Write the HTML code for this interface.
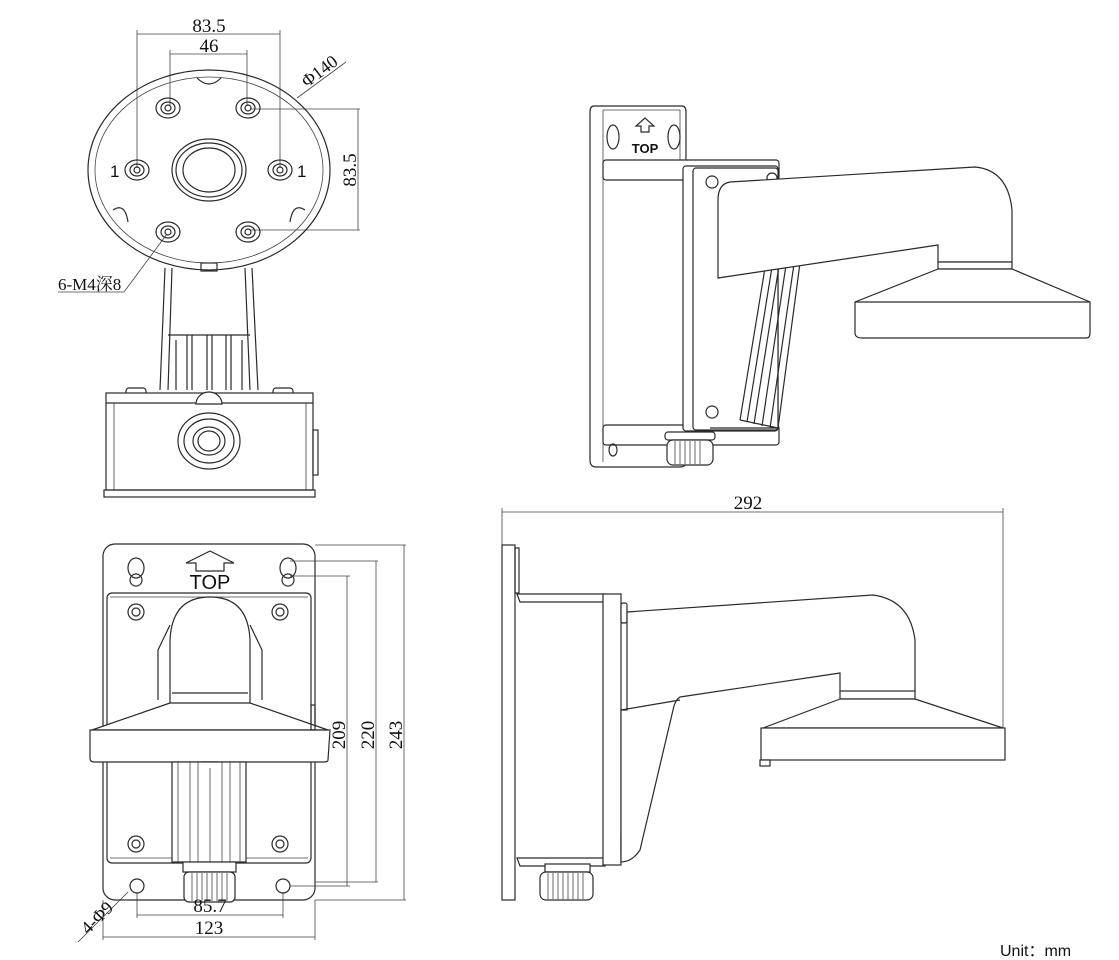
<!DOCTYPE html>
<html><head><meta charset="utf-8"><style>
html,body{margin:0;padding:0;background:#fff;width:1119px;height:960px;overflow:hidden}
svg{display:block}
.l{fill:none;stroke:#2a2a2a;stroke-width:1.2}
.t{stroke:#444;stroke-width:0.8;fill:none}
.w{fill:#fff;stroke:#2a2a2a;stroke-width:1.2}
text{font-family:"Liberation Serif","Noto Serif CJK SC",serif;fill:#111}
text.s{font-family:"Liberation Sans","Noto Sans CJK SC",sans-serif}
</style></head><body>
<svg width="1119" height="960" viewBox="0 0 1119 960" xmlns="http://www.w3.org/2000/svg">
<!-- ===== Top-left view ===== -->
<g>
<line class="t" x1="137" y1="34" x2="280" y2="34"/><line class="t" x1="137" y1="30" x2="137" y2="168"/><line class="t" x1="280" y1="30" x2="280" y2="168"/>
<text x="209" y="32" font-size="19" text-anchor="middle">83.5</text>
<line class="t" x1="170" y1="54" x2="247" y2="54"/><line class="t" x1="170" y1="50" x2="170" y2="106"/><line class="t" x1="247" y1="50" x2="247" y2="106"/>
<text x="209" y="52" font-size="19" text-anchor="middle">46</text>
<line class="t" x1="297" y1="98" x2="346" y2="62"/>
<text transform="translate(307,88) rotate(-37)" font-size="18">Φ140</text>
<line class="t" x1="250" y1="109" x2="360" y2="109"/><line class="t" x1="250" y1="230" x2="360" y2="230"/><line class="t" x1="358" y1="109" x2="358" y2="230"/>
<text transform="translate(356,170) rotate(-90)" font-size="19" text-anchor="middle">83.5</text>
<ellipse class="l" cx="209" cy="170" rx="121" ry="100"/>
<ellipse class="t" cx="209" cy="170" rx="114" ry="93"/>
<path class="w" d="M197 78 q12 12 24 0" />
<path class="w" d="M113 210 q12 -8 15 12" /><path class="w" d="M305 210 q-12 -8 -15 12" />
<ellipse class="l" cx="209" cy="170" rx="37" ry="31"/><ellipse class="l" cx="209" cy="170" rx="33" ry="27"/><ellipse class="l" cx="209" cy="170" rx="26" ry="22"/>
<g class="l">
<ellipse cx="168" cy="108" rx="12" ry="10"/><ellipse cx="168" cy="108" rx="7" ry="6"/><ellipse cx="168" cy="108" rx="3" ry="3"/>
<ellipse cx="248" cy="108" rx="12" ry="10"/><ellipse cx="248" cy="108" rx="7" ry="6"/><ellipse cx="248" cy="108" rx="3" ry="3"/>
<ellipse cx="137" cy="170" rx="12" ry="10"/><ellipse cx="137" cy="170" rx="7" ry="6"/><ellipse cx="137" cy="170" rx="3" ry="3"/>
<ellipse cx="280" cy="170" rx="12" ry="10"/><ellipse cx="280" cy="170" rx="7" ry="6"/><ellipse cx="280" cy="170" rx="3" ry="3"/>
<ellipse cx="168" cy="232" rx="12" ry="10"/><ellipse cx="168" cy="232" rx="7" ry="6"/><ellipse cx="168" cy="232" rx="3" ry="3"/>
<ellipse cx="248" cy="232" rx="12" ry="10"/><ellipse cx="248" cy="232" rx="7" ry="6"/><ellipse cx="248" cy="232" rx="3" ry="3"/>
</g>
<text class="s" x="110" y="177" font-size="17">1</text>
<text class="s" x="297" y="177" font-size="17">1</text>
<text x="58" y="290" font-size="17">6-M4深8</text>
<polyline class="t" points="58,292 124,292 167,234"/>
<!-- stem -->
<path class="l" d="M165 268 L160 390 M172 268 L168 390 M252 268 L258 390 M245 268 L250 390"/>
<rect class="l" x="201" y="263" width="16" height="8"/>
<path class="l" d="M168 335 L250 335 M187 335 L187 390 M192 335 L192 390 M207 335 L207 390 M212 335 L212 390 M226 335 L226 390 M231 335 L231 390 M176 340 L176 390 M242 340 L242 390"/>
<rect class="w" x="126" y="388" width="20" height="8" rx="3"/><rect class="w" x="273" y="388" width="20" height="8" rx="3"/>
<rect class="w" x="106" y="393" width="207" height="97"/>
<line class="l" x1="106" y1="403" x2="313" y2="403"/><line class="t" x1="114" y1="403" x2="114" y2="490"/><line class="t" x1="306" y1="403" x2="306" y2="490"/>
<path class="w" d="M196 404 a13 12 0 0 1 26 0 z"/>
<ellipse class="l" cx="209" cy="441" rx="31" ry="28"/><ellipse class="l" cx="209" cy="441" rx="25" ry="22"/><ellipse class="l" cx="209" cy="441" rx="16" ry="14"/><ellipse class="l" cx="209" cy="441" rx="11" ry="10"/>
<rect class="l" x="313" y="430" width="5" height="45"/>
<rect class="l" x="104" y="490" width="211" height="7"/>
</g>
<!-- ===== Top-right view ===== -->
<g>
<path class="w" d="M594 106 L682 106 Q686 106 686 112 L686 462 Q686 467 680 467 L596 467 Q590 467 590 460 L590 112 Q590 106 594 106 Z"/>
<path class="t" d="M603 110 L680 110 L680 160 M603 110 L603 462"/>
<ellipse class="l" cx="613" cy="137" rx="6" ry="12"/><ellipse class="l" cx="674" cy="137" rx="6" ry="12"/>
<path class="l" d="M645 118 l-9 8 h5 v6 h8 v-6 h5 z"/>
<text class="s" x="645" y="153" font-size="13" font-weight="bold" text-anchor="middle">TOP</text>
<rect class="w" x="603" y="160" width="176" height="20" rx="3"/>
<rect class="w" x="603" y="425" width="176" height="20" rx="3"/>
<ellipse class="l" cx="613" cy="450" rx="4" ry="6"/>
<rect class="w" x="683" y="166" width="95" height="265" rx="3"/>
<rect class="w" x="693" y="168" width="85" height="262" rx="3"/>
<circle class="l" cx="712" cy="182" r="6"/><circle class="l" cx="772" cy="178" r="5"/><circle class="l" cx="712" cy="412" r="6"/>
<!-- fins -->
<path class="l" d="M765 268 L740 420 M772 267 L747 422 M779 266 L754 424 M786 265 L762 426 M794 264 L770 428 M800 263 L778 428"/>
<path class="l" d="M740 420 L778 428 M710 428 L778 428"/>
<!-- arm -->
<path class="w" d="M730 182 L975 167 Q1008 170 1012 210 L1012 262 L938 262 L938 245 L718 278 L718 200 Q718 184 730 182 Z"/>
<rect class="w" x="938" y="262" width="74" height="7"/>
<path class="w" d="M938 269 L855 302 L855 334 Q856 338 862 338 L1086 338 Q1090 338 1090 333 L1090 302 L1012 269 Z"/>
<line class="l" x1="855" y1="302" x2="1090" y2="302"/>
<rect class="w" x="665" y="432" width="50" height="8" rx="3"/>
<rect class="w" x="667" y="440" width="46" height="25" rx="6"/>
<path class="t" d="M675 441v23 M680 441v23 M685 441v23 M690 441v23 M695 441v23 M700 441v23"/>
</g>
<!-- ===== Bottom-left view ===== -->
<g>
<rect class="w" x="103" y="544" width="212" height="356" rx="12"/>
<rect class="w" x="107" y="593" width="204" height="270" rx="5"/>
<path class="t" d="M110 597 L308 597 M110 858 L308 858"/>
<ellipse class="l" cx="136" cy="568" rx="8" ry="10"/><ellipse class="l" cx="136" cy="580" rx="6" ry="6"/>
<ellipse class="l" cx="288" cy="568" rx="8" ry="10"/><ellipse class="l" cx="288" cy="580" rx="6" ry="6"/>
<path class="l" d="M210 551 l-24 12 h10 v8 h28 v-8 h10 z"/>
<text class="s" x="210" y="589" font-size="20" text-anchor="middle">TOP</text>
<g class="l"><circle cx="136" cy="612" r="8"/><circle cx="136" cy="612" r="4"/><circle cx="280" cy="612" r="8"/><circle cx="280" cy="612" r="4"/><circle cx="136" cy="844" r="8"/><circle cx="136" cy="844" r="4"/><circle cx="280" cy="844" r="8"/><circle cx="280" cy="844" r="4"/></g>
<path class="w" d="M170 705 L170 640 Q172 597 210 597 Q248 597 250 640 L250 705 Z"/>
<path class="l" d="M170 625 L158 650 L158 700 M250 625 L262 650 L262 700 M172 693 L248 693"/>
<path class="w" d="M170 703 L92 730 L328 730 L250 703 Z"/>
<path class="w" d="M90 730 L330 730 L328 760 Q328 762 324 762 L94 762 Q90 762 90 758 Z"/>
<rect class="w" x="200" y="762" width="20" height="6" rx="2"/>
<rect class="w" x="172" y="762" width="74" height="100"/>
<path class="t" d="M178 762v100 M190 762v100 M198 762v100 M210 768v94 M222 762v100 M230 762v100 M240 762v100"/>
<ellipse class="l" cx="137" cy="886" rx="7" ry="7"/><ellipse class="l" cx="283" cy="886" rx="7" ry="7"/>
<rect class="w" x="183" y="862" width="53" height="10"/>
<rect class="w" x="184" y="872" width="51" height="30" rx="5"/>
<path class="t" d="M192 873v28 M197 873v28 M202 873v28 M207 873v28 M212 873v28 M217 873v28 M222 873v28 M227 873v28"/>
<rect class="l" x="311" y="705" width="4" height="25"/>
<!-- dims -->
<path class="t" d="M137 892 V918 M283 892 V918 M137 915 H283"/>
<text x="210" y="912" font-size="19" text-anchor="middle">85.7</text>
<path class="t" d="M103 900 V940 M315 900 V940 M103 937 H315"/>
<text x="209" y="934" font-size="19" text-anchor="middle">123</text>
<path class="t" d="M290 576 H350 M290 886 H350 M347 576 V886"/>
<text transform="translate(345,735) rotate(-90)" font-size="19" text-anchor="middle">209</text>
<path class="t" d="M290 561 H378 M315 882 H378 M376 561 V882"/>
<text transform="translate(374,735) rotate(-90)" font-size="19" text-anchor="middle">220</text>
<path class="t" d="M315 545 H406 M315 900 H406 M404 545 V900"/>
<text transform="translate(402,735) rotate(-90)" font-size="19" text-anchor="middle">243</text>
<line class="t" x1="128" y1="892" x2="78" y2="942"/>
<text transform="translate(88,935) rotate(-45)" font-size="18">4-Φ9</text>
</g>
<!-- ===== Bottom-right view ===== -->
<g>
<path class="t" d="M502 512 H1003 M502 508 V545 M1003 508 V730"/>
<text x="748" y="509" font-size="19" text-anchor="middle">292</text>
<rect class="w" x="502" y="545" width="13" height="355"/>
<rect class="l" x="515" y="548" width="4" height="45"/>
<path class="w" d="M517 594 L605 594 L605 602 L520 602 Z"/>
<path class="w" d="M517 858 L605 858 L605 866 L520 866 Z"/>
<rect class="w" x="603" y="594" width="18" height="271"/>
<rect class="w" x="621" y="603" width="6" height="20" rx="2"/><rect class="w" x="621" y="835" width="6" height="20" rx="2"/>
<path class="w" d="M627 612 L873 595 Q910 600 915 640 L915 692 L840 692 L840 673 L680 697 Q675 700 673 710 L640 850 Q632 862 621 862 L621 710 L627 710 Z"/>
<line class="l" x1="621" y1="710" x2="680" y2="700"/>
<rect class="w" x="840" y="691" width="75" height="8"/>
<path class="w" d="M840 699 L763 728 L1003 728 L915 699 Z"/>
<rect class="w" x="761" y="728" width="244" height="32"/>
<rect class="w" x="760" y="760" width="10" height="6"/>
<rect class="w" x="545" y="864" width="45" height="8"/>
<rect class="w" x="540" y="872" width="53" height="28" rx="6"/>
<path class="t" d="M548 873v26 M553 873v26 M558 873v26 M563 873v26 M568 873v26 M573 873v26 M578 873v26 M583 873v26"/>
</g>
<text class="s" x="1000" y="956" font-size="16">Unit：mm</text>
</svg>
</body></html>
